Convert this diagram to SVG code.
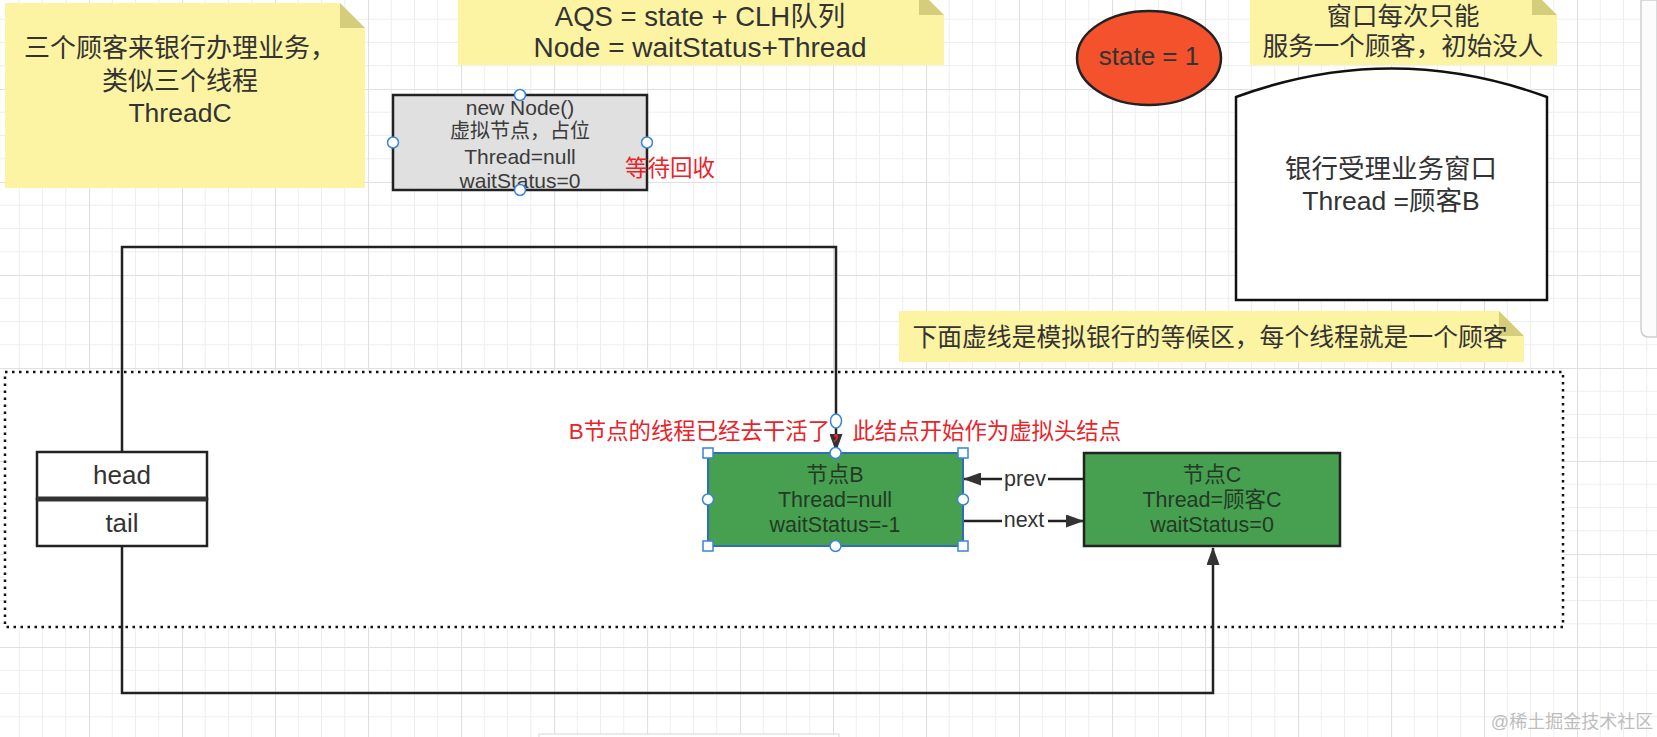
<svg xmlns="http://www.w3.org/2000/svg" width="1657" height="737" viewBox="0 0 1657 737">
<defs>
  <pattern id="grid" patternUnits="userSpaceOnUse" x="89" y="89" width="93" height="93">
    <path d="M23.25,0V93M46.5,0V93M69.75,0V93M0,23.25H93M0,46.5H93M0,69.75H93" stroke="#eeeeee" stroke-width="1" fill="none"/>
    <path d="M0.5,0V93M0,0.5H93" stroke="#e0e0e0" stroke-width="1.2" fill="none"/>
  </pattern>
  <marker id="arr" markerUnits="userSpaceOnUse" markerWidth="18" markerHeight="13" refX="17" refY="6.5" orient="auto">
    <path d="M0,0 L18,6.5 L0,13 Z" fill="#333"/>
  </marker>
</defs>
<style>
  text { font-family: 'Liberation Sans', 'Noto Sans CJK SC', sans-serif; fill: #333; dominant-baseline: central; text-anchor: middle; }
  .note { fill: #fcf4a3; stroke: none; }
  .fold { fill: #d4ce7c; stroke: none; }
  .big { font-size: 26px; }
  .mid { font-size: 21.5px; fill: #243a26; }
  .sm { font-size: 21px; fill: #3a3a3a; }
  .red { fill: #e8242b; }
  .conn { fill: none; stroke: #222; stroke-width: 2.5; }
  .hc { fill: #fff; stroke: #3a84d6; stroke-width: 1.5; }
</style>

<rect x="0" y="0" width="1657" height="737" fill="#fff"/>
<rect x="0" y="0" width="1657" height="737" fill="url(#grid)"/>

<!-- right editor panel edge -->
<path d="M1641,0 V329 Q1641,337 1649,337 H1657 V0 Z" fill="#fcfcfc" stroke="#cfcfcf" stroke-width="1.5"/>

<!-- waiting area -->
<g id="waiting-area">
  <rect x="5" y="372" width="1558" height="255" fill="#fff" stroke="#111" stroke-width="2.5" stroke-dasharray="2.5 4.5"/>
</g>

<g id="note-customers">
  <path class="note" d="M5,3 H340 L365,28 V188 H5 Z"/>
  <path class="fold" d="M340,3 L365,28 H340 Z"/>
  <text class="big" x="180" y="48">三个顾客来银行办理业务，</text>
  <text class="big" x="180" y="81">类似三个线程</text>
  <text class="big" x="180" y="113" style="font-size:26.5px">ThreadC</text>
</g>

<g id="note-aqs">
  <path class="note" d="M458,-10 H919 L944,15 V65 H458 Z"/>
  <path class="fold" d="M919,-10 L944,15 H919 Z"/>
  <text x="700" y="16" style="font-size:27.5px">AQS = state + CLH队列</text>
  <text x="700" y="47" style="font-size:28px">Node = waitStatus+Thread</text>
</g>

<g id="dummy-node">
  <rect x="393" y="95" width="254" height="95" fill="#e0e0e0" stroke="#222" stroke-width="2.5"/>
  <text class="sm" x="520" y="107">new Node()</text>
  <text class="sm" x="520" y="131" style="font-size:20px">虚拟节点，占位</text>
  <text class="sm" x="520" y="156">Thread=null</text>
  <text class="sm" x="520" y="180.5">waitStatus=0</text>
  <circle class="hc" cx="520" cy="95" r="5.5"/>
  <circle class="hc" cx="393" cy="142.5" r="5.5"/>
  <circle class="hc" cx="647" cy="142.5" r="5.5"/>
  <circle class="hc" cx="520" cy="190" r="5.5"/>
</g>

<g id="label-recycle">
  <text class="red" x="670" y="168" style="font-size:22.5px">等待回收</text>
</g>

<g id="state">
  <ellipse cx="1149" cy="58" rx="72" ry="47" fill="#f4512d" stroke="#222" stroke-width="2.5"/>
  <text x="1149" y="56" style="font-size:26px">state = 1</text>
</g>

<g id="note-window">
  <path class="note" d="M1250,-10 H1532 L1557,15 V65 H1250 Z"/>
  <path class="fold" d="M1532,-10 L1557,15 H1532 Z"/>
  <text x="1403" y="16" style="font-size:25.5px">窗口每次只能</text>
  <text x="1403" y="46" style="font-size:25.5px">服务一个顾客，初始没人</text>
</g>

<g id="bank-window">
  <path d="M1236,300 L1236,97 Q1391.5,40 1547,97 L1547,300 Z" fill="#fff" stroke="#111" stroke-width="2.5"/>
  <text x="1391" y="169" style="font-size:26.5px">银行受理业务窗口</text>
  <text x="1391" y="201" style="font-size:26.5px">Thread =顾客B</text>
</g>

<g id="note-queue">
  <path class="note" d="M899,311 H1499 L1524,336 V362 H899 Z"/>
  <path class="fold" d="M1499,311 L1524,336 H1499 Z"/>
  <text x="1210" y="337" style="font-size:24.8px">下面虚线是模拟银行的等候区，每个线程就是一个顾客</text>
</g>

<g id="head-tail">
  <rect x="37" y="452" width="170" height="47" fill="#fff" stroke="#222" stroke-width="2.5"/>
  <rect x="37" y="499" width="170" height="47" fill="#fff" stroke="#222" stroke-width="2.5"/>
  <line x1="37" y1="499" x2="207" y2="499" stroke="#333" stroke-width="5"/>
  <text x="122" y="475" style="font-size:26px">head</text>
  <text x="122" y="523" style="font-size:26px">tail</text>
</g>

<g id="connectors">
  <polyline class="conn" points="122,452 122,247 836,247 836,451" marker-end="url(#arr)"/>
  <polyline class="conn" points="122,546 122,693 1213,693 1213,548" marker-end="url(#arr)"/>
  <line class="conn" x1="1084" y1="479" x2="964" y2="479" marker-end="url(#arr)"/>
  <line class="conn" x1="963" y1="521" x2="1083" y2="521" marker-end="url(#arr)"/>
  <rect x="1002" y="467" width="46" height="24" fill="#fff"/>
  <rect x="1002" y="509" width="46" height="24" fill="#fff"/>
  <text x="1025" y="479" style="font-size:21.5px">prev</text>
  <text x="1024" y="520" style="font-size:21.5px">next</text>
</g>

<g id="node-b">
  <rect x="708" y="453" width="255" height="93" fill="#46a04f" stroke="#2d6fb7" stroke-width="2"/>
  <text class="mid" x="835" y="475">节点B</text>
  <text class="mid" x="835" y="500">Thread=null</text>
  <text class="mid" x="835" y="525">waitStatus=-1</text>
  <rect class="hc" x="703" y="448" width="10" height="10"/>
  <rect class="hc" x="958" y="448" width="10" height="10"/>
  <rect class="hc" x="703" y="541" width="10" height="10"/>
  <rect class="hc" x="958" y="541" width="10" height="10"/>
  <circle class="hc" cx="835.5" cy="453" r="5.5"/>
  <circle class="hc" cx="835.5" cy="546" r="5.5"/>
  <circle class="hc" cx="708" cy="499.5" r="5.5"/>
  <circle class="hc" cx="963" cy="499.5" r="5.5"/>
</g>

<g id="node-c">
  <rect x="1084" y="453" width="256" height="93" fill="#46a04f" stroke="#222" stroke-width="2.5"/>
  <text class="mid" x="1212" y="475">节点C</text>
  <text class="mid" x="1212" y="500">Thread=顾客C</text>
  <text class="mid" x="1212" y="525">waitStatus=0</text>
</g>

<g id="label-b-done">
  <text class="red" x="845" y="431" style="font-size:22.4px">B节点的线程已经去干活了，此结点开始作为虚拟头结点</text>
  <ellipse class="hc" cx="836" cy="421" rx="5.5" ry="7"/>
</g>

<rect x="539" y="734" width="300" height="6" fill="#fff" stroke="#d8d8d8" stroke-width="1"/>
<text x="1572" y="722" style="font-size:18px;fill:#bdbdbd">@稀土掘金技术社区</text>
</svg>
